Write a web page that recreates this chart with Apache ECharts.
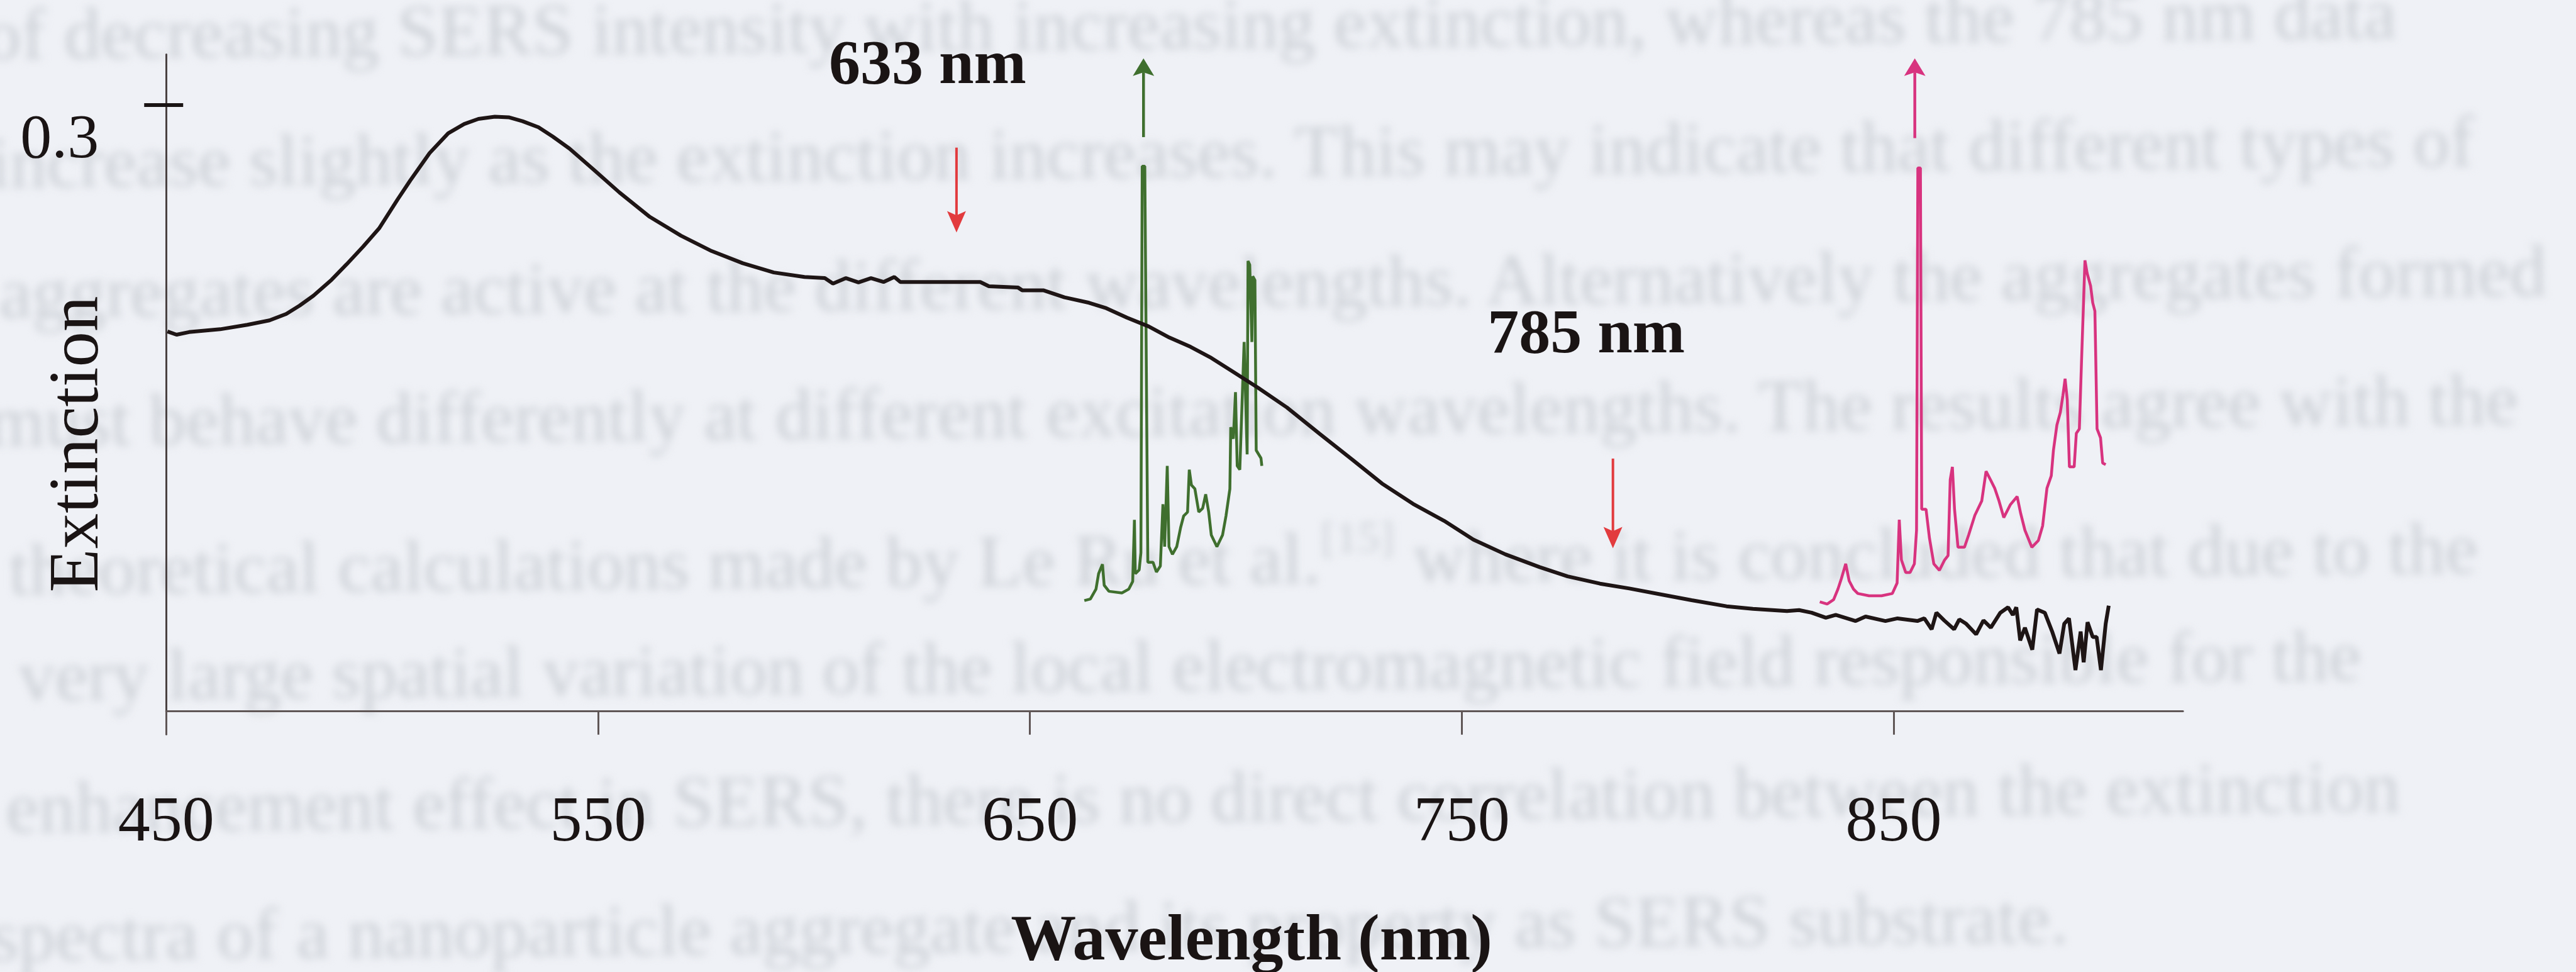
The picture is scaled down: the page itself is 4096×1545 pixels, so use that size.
<!DOCTYPE html>
<html>
<head>
<meta charset="utf-8">
<script src="https://cdn.jsdelivr.net/npm/echarts@6/dist/echarts.min.js"></script>
<style>
  html, body { margin: 0; padding: 0; background: #eff1f6; overflow: hidden; }
  #page { position: absolute; left: 0; top: 0; width: 4096px; height: 1545px;
          filter: blur(7px); color: #ccd0d6; font-family: "Liberation Serif", serif;
          white-space: nowrap; transform: rotate(-0.5deg); transform-origin: 1840px 760px; }
  #page div { position: absolute; }
  #page sup { font-size: 0.6em; vertical-align: 0.7em; }
  #chart { position: absolute; left: 0; top: 0; width: 4096px; height: 1545px; }
</style>
</head>
<body>
<div id="page"></div>
<div id="chart"></div>
<script>
// ---- data -------------------------------------------------------------
// Extinction spectrum of the aggregated colloid: [wavelength nm, extinction]
const extinctionSpectrum = [
  [450.3,0.1880],[452.4,0.1864],[455.3,0.1877],[462.5,0.1891],[468.8,0.1913],[473.9,0.1935],
  [477.8,0.1967],[480.9,0.2008],[484.1,0.2057],[488.3,0.2136],[491.8,0.2213],[495.6,0.2300],
  [499.3,0.2390],[503.6,0.2534],[506.5,0.2627],[511.0,0.2763],[515.3,0.2861],[519.0,0.2907],
  [522.3,0.2932],[526.1,0.2943],[529.3,0.2940],[532.5,0.2921],[536.2,0.2891],[539.5,0.2845],
  [543.4,0.2785],[549.0,0.2681],[554.9,0.2569],[562.0,0.2447],[569.2,0.2354],[576.3,0.2278],
  [583.5,0.2218],[590.7,0.2172],[597.8,0.2150],[602.5,0.2144],[604.4,0.2117],[607.4,0.2144],
  [610.3,0.2123],[613.2,0.2144],[616.1,0.2125],[618.6,0.2150],[620.0,0.2125],[628.0,0.2125],
  [638.5,0.2125],[640.5,0.2104],[647.2,0.2098],[648.2,0.2084],[653.1,0.2084],[658.0,0.2049],
  [663.7,0.2022],[667.7,0.1995],[672.5,0.1948],[677.5,0.1905],[682.3,0.1850],[687.2,0.1804],
  [692.0,0.1749],[697.0,0.1681],[702.8,0.1602],[709.5,0.1504],[717.1,0.1373],[724.7,0.1245],
  [731.5,0.1128],[738.7,0.1027],[745.9,0.0943],[752.7,0.0850],[760.1,0.0777],[768.0,0.0714],
  [774.5,0.0668],[782.0,0.0632],[788.8,0.0608],[797.0,0.0575],[803.2,0.0550],[811.3,0.0520],
  [817.4,0.0507],[825.3,0.0496],[828.1,0.0501],[831.0,0.0488],[834.3,0.0463],[836.6,0.0477],
  [841.2,0.0447],[843.5,0.0469],[848.1,0.0447],[850.9,0.0460],[855.5,0.0447],[857.1,0.0460],
  [858.8,0.0406],[859.9,0.0488],[861.7,0.0450],[864.0,0.0406],[865.2,0.0455],[866.8,0.0433],
  [869.1,0.0381],[870.8,0.0450],[872.5,0.0414],[874.7,0.0488],[876.5,0.0515],[877.6,0.0477],
  [878.4,0.0515],[879.3,0.0351],[880.4,0.0414],[882.1,0.0305],[883.2,0.0504],[885.0,0.0488],
  [886.7,0.0395],[888.4,0.0286],[889.5,0.0433],[890.6,0.0460],[892.1,0.0204],[893.3,0.0395],
  [894.0,0.0243],[894.9,0.0441],[896.1,0.0368],[897.0,0.0368],[898.0,0.0204],[899.1,0.0433],
  [899.8,0.0523]
];

// SERS spectrum excited at 633 nm, plotted against scattered wavelength
const sers633 = [
  [662.6,0.0548],[664.0,0.0556],[665.3,0.0605],[665.9,0.0681],[666.8,0.0728],[667.2,0.0624],
  [668.3,0.0594],[671.3,0.0586],[672.9,0.0605],[673.8,0.0643],[674.2,0.0948],[674.4,0.0681],
  [675.3,0.0700],[675.7,0.0785],[676.0,0.2698],[676.6,0.2698],[677.3,0.0738],[678.5,0.0738],
  [679.3,0.0689],[680.2,0.0719],[680.8,0.1025],[681.2,0.0815],[681.8,0.1215],[682.2,0.0815],
  [683.0,0.0777],[684.0,0.0815],[684.9,0.0910],[685.6,0.0967],[686.5,0.0986],[686.9,0.1196],
  [687.4,0.1120],[688.2,0.1101],[689.1,0.0986],[690.0,0.1005],[690.7,0.1074],[691.4,0.0986],
  [692.0,0.0872],[693.3,0.0815],[694.6,0.0872],[695.4,0.0967],[696.3,0.1101],[696.5,0.1406],
  [697.1,0.1349],[697.6,0.1580],[698.0,0.1215],[698.6,0.1196],[699.3,0.1638],[699.6,0.1828],
  [700.3,0.1272],[700.5,0.2229],[700.9,0.2210],[701.4,0.1828],[701.6,0.2153],[702.1,0.2134],
  [702.4,0.1292],[703.5,0.1253],[703.7,0.1215]
];

// SERS spectrum excited at 785 nm
const sers785 = [
  [832.9,0.0542],[834.6,0.0531],[836.1,0.0553],[837.1,0.0605],[837.9,0.0657],[838.9,0.0730],
  [839.7,0.0646],[840.7,0.0605],[841.7,0.0583],[844.3,0.0572],[847.2,0.0572],[849.7,0.0583],
  [850.8,0.0635],[851.3,0.0948],[851.8,0.0749],[852.8,0.0687],[853.8,0.0687],[854.8,0.0730],
  [855.3,0.0896],[855.6,0.2689],[856.2,0.2689],[856.5,0.1000],[857.5,0.1000],[858.3,0.0856],
  [859.3,0.0730],[860.6,0.0698],[861.8,0.0749],[862.6,0.0771],[863.1,0.1147],[863.6,0.1210],
  [864.1,0.1000],[864.9,0.0812],[866.4,0.0812],[867.4,0.0875],[868.8,0.0970],[870.4,0.1041],
  [871.4,0.1188],[872.4,0.1147],[873.4,0.1104],[874.4,0.1041],[875.5,0.0959],[877.0,0.1022],
  [878.6,0.1063],[879.4,0.0981],[880.4,0.0896],[882.0,0.0812],[883.5,0.0845],[884.5,0.0918],
  [885.5,0.1104],[886.5,0.1166],[887.0,0.1292],[887.8,0.1417],[888.6,0.1480],[889.2,0.1564],
  [889.7,0.1646],[890.2,0.1542],[890.7,0.1210],[891.8,0.1210],[892.3,0.1376],[893.0,0.1398],
  [893.5,0.1730],[894.3,0.2232],[894.8,0.2169],[895.6,0.2106],[896.1,0.2022],[896.6,0.1981],
  [897.1,0.1398],[897.9,0.1354],[898.4,0.1229],[899.1,0.1221]
];

// Off-scale strongest SERS bands: [wavelength, arrow start, arrow tip]
const breakArrows = [[676.3, 0.2842, 0.3232], [854.9, 0.2837, 0.3232]];
const breakColors = ['#3f6f2e', '#d8337f'];

// Laser lines: [wavelength, arrow start, arrow tip, label wavelength, label level]
const excitationArrows = [[633, 0.279, 0.237, 626.3, 0.3191], [785, 0.1251, 0.0807, 778.8, 0.1856]];
const excitationLabels = ['633 nm', '785 nm'];

const xTicks = [450, 550, 650, 750, 850];
const yTicks = [0.3];

// Body text of the surrounding page, seen faintly behind the figure
const pageText = [
  'of decreasing SERS intensity with increasing extinction, whereas the 785 nm data',
  'increase slightly as the extinction increases. This may indicate that different types of',
  'aggregates are active at the different wavelengths. Alternatively the aggregates formed',
  'must behave differently at different excitation wavelengths. The results agree with the',
  'theoretical calculations made by Le Ru et al.<sup>[15]</sup> where it is concluded that due to the',
  'very large spatial variation of the local electromagnetic field responsible for the',
  'enhancement effect in SERS, there is no direct correlation between the extinction',
  'spectra of a nanoparticle aggregate and its property as SERS substrate.'
];
const pageLineRight = [3817, 3939, 4052, 4005, 3939, 3752, 3812, 3283];
const pageLineMid = [39, 243, 450, 654, 857, 1059, 1268, 1472];

// ---- page text layer --------------------------------------------------
(function () {
  const page = document.getElementById('page');
  const ctx = document.createElement('canvas').getContext('2d');
  ctx.font = '100px "Liberation Serif"';
  const size = 100 * (3752 - 26) / ctx.measureText(pageText[5]).width;
  pageText.forEach(function (t, i) {
    const d = document.createElement('div');
    d.innerHTML = t;
    d.style.fontSize = size + 'px';
    d.style.lineHeight = size + 'px';
    d.style.right = (4096 - pageLineRight[i]) + 'px';
    d.style.top = (pageLineMid[i] - size / 2) + 'px';
    page.appendChild(d);
  });
})();

// ---- chart ------------------------------------------------------------
const FONT = '"Liberation Serif", "Times New Roman", serif';
const INK = '#1a1414';
const Y_MIN = -0.0114, Y_MAX = 0.3251;

function arrowShape(a, b, headW, headL) {
  const dir = b[1] > a[1] ? 1 : -1;
  const back = b[1] - dir * headL;
  const notch = b[1] - dir * headL * 0.8;
  return {
    stem: { x1: a[0], y1: a[1], x2: b[0], y2: notch },
    head: [[b[0], b[1]], [b[0] - headW / 2, back], [b[0], notch], [b[0] + headW / 2, back]]
  };
}

const chart = echarts.init(document.getElementById('chart'), null, { renderer: 'canvas' });
chart.setOption({
  backgroundColor: 'transparent',
  animation: false,
  grid: { left: 264.25, right: 624.9, top: 86.6, bottom: 377.75 },
  xAxis: {
    type: 'value', min: 450, max: 917,
    axisLine: { onZero: true, lineStyle: { color: '#5f5656', width: 3 } },
    axisTick: { customValues: xTicks, length: 37, lineStyle: { color: '#5f5656', width: 3 } },
    axisLabel: { customValues: xTicks, margin: 91, fontSize: 102, lineHeight: 102,
                 fontFamily: FONT, color: INK },
    splitLine: { show: false }
  },
  yAxis: [{
    type: 'value', min: Y_MIN, max: Y_MAX,
    axisLine: { show: true, onZero: false, lineStyle: { color: '#4a4242', width: 3 } },
    axisTick: { show: true, customValues: yTicks, length: 35, lineStyle: { color: INK, width: 6 } },
    axisLabel: { customValues: yTicks, margin: 107, fontSize: 100, lineHeight: 114,
                 verticalAlign: 'top', fontFamily: FONT, color: INK },
    splitLine: { show: false }
  }, {
    type: 'value', min: Y_MIN, max: Y_MAX, position: 'left',
    axisLine: { show: false },
    axisTick: { show: true, inside: true, customValues: yTicks, length: 27,
                lineStyle: { color: INK, width: 6 } },
    axisLabel: { show: false },
    splitLine: { show: false }
  }],
  graphic: [
    { type: 'text', x: 125, y: 706, rotation: Math.PI / 2,
      style: { text: 'Extinction', font: '113px ' + FONT, fill: INK,
               align: 'center', verticalAlign: 'middle' } },
    { type: 'text', x: 1990, y: 1498,
      style: { text: 'Wavelength (nm)', font: 'bold 104px ' + FONT, fill: INK,
               align: 'center', verticalAlign: 'middle' } }
  ],
  series: [
    { type: 'line', data: sers633, showSymbol: false, z: 2,
      lineStyle: { color: '#3f6f2e', width: 4.5 } },
    { type: 'line', data: sers785, showSymbol: false, z: 2,
      lineStyle: { color: '#d8337f', width: 4.5 } },
    { type: 'line', data: extinctionSpectrum, showSymbol: false, z: 3,
      lineStyle: { color: '#1e1515', width: 6 } },
    { type: 'custom', data: breakArrows, z: 2, clip: false,
      encode: { x: 0, y: [1, 2] },
      renderItem: function (params, api) {
        const a = api.coord([api.value(0), api.value(1)]);
        const b = api.coord([api.value(0), api.value(2)]);
        const s = arrowShape(a, b, 34, 28);
        const c = breakColors[params.dataIndex];
        return { type: 'group', children: [
          { type: 'line', shape: s.stem, style: { stroke: c, lineWidth: 4.5 } },
          { type: 'polygon', shape: { points: s.head }, style: { fill: c } }
        ] };
      } },
    { type: 'custom', data: excitationArrows, z: 4, clip: false,
      encode: { x: 0, y: [1, 2] },
      renderItem: function (params, api) {
        const a = api.coord([api.value(0), api.value(1)]);
        const b = api.coord([api.value(0), api.value(2)]);
        const t = api.coord([api.value(3), api.value(4)]);
        const s = arrowShape(a, b, 30, 34);
        return { type: 'group', children: [
          { type: 'line', shape: s.stem, style: { stroke: '#e23b3e', lineWidth: 4 } },
          { type: 'polygon', shape: { points: s.head }, style: { fill: '#e23b3e' } },
          { type: 'text', x: t[0], y: t[1],
            style: { text: excitationLabels[params.dataIndex], font: 'bold 100px ' + FONT,
                     fill: INK, align: 'center', verticalAlign: 'middle' } }
        ] };
      } }
  ]
});
</script>
</body>
</html>
